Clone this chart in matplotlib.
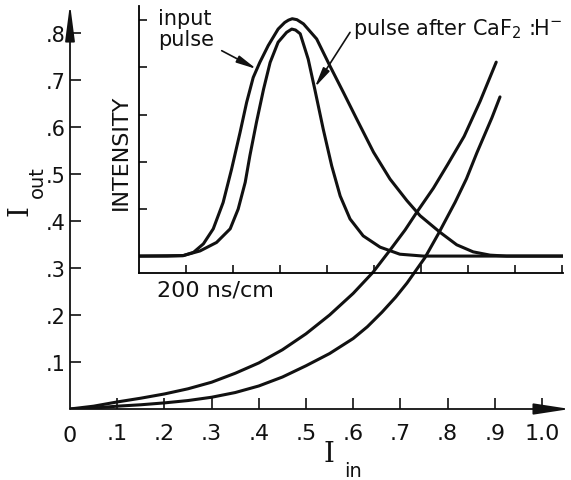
import matplotlib
matplotlib.use('Agg')
import matplotlib.pyplot as plt

# Curvas principales I_out vs I_in
upper_in = [0.0, 0.05, 0.1, 0.15, 0.2, 0.25, 0.3, 0.35, 0.4, 0.45, 0.5, 0.55, 0.6,
            0.642, 0.678, 0.71, 0.735, 0.77, 0.8, 0.835, 0.869, 0.903]
upper_out = [0.0, 0.006, 0.015, 0.023, 0.032, 0.043, 0.057, 0.076, 0.098, 0.126, 0.16,
             0.2, 0.246, 0.291, 0.338, 0.381, 0.419, 0.47, 0.52, 0.58, 0.655, 0.738]
lower_in = [0.0, 0.05, 0.1, 0.15, 0.2, 0.25, 0.3, 0.35, 0.4, 0.45, 0.5, 0.55, 0.6,
            0.63, 0.661, 0.69, 0.714, 0.752, 0.78, 0.816, 0.84, 0.862, 0.894, 0.911]
lower_out = [0.0, 0.002, 0.006, 0.009, 0.013, 0.018, 0.025, 0.035, 0.049, 0.068, 0.092,
             0.118, 0.15, 0.175, 0.206, 0.238, 0.268, 0.322, 0.372, 0.44, 0.49, 0.545,
             0.62, 0.664]

x_ticks = [0.1, 0.2, 0.3, 0.4, 0.5, 0.6, 0.7, 0.8, 0.9, 1.0]
x_tick_labels = ['.1', '.2', '.3', '.4', '.5', '.6', '.7', '.8', '.9', '1.0']
y_ticks = [0.1, 0.2, 0.3, 0.4, 0.5, 0.6, 0.7, 0.8]
y_tick_labels = ['.1', '.2', '.3', '.4', '.5', '.6', '.7', '.8']

# Recuadro: pulsos (unidades = divisiones de la pantalla)
input_t = [0.02, 0.6, 0.94, 1.16, 1.37, 1.58, 1.79, 1.97, 2.15, 2.29, 2.43, 2.57, 2.75,
           2.96, 3.1, 3.18, 3.26, 3.36, 3.5, 3.78, 4.06, 4.35, 4.63, 4.99, 5.34, 5.7,
           5.98, 6.4, 6.76, 7.11, 7.47, 7.82, 9.03]
input_i = [0.36, 0.36, 0.37, 0.44, 0.62, 0.94, 1.5, 2.21, 2.99, 3.63, 4.16, 4.48, 4.84,
           5.19, 5.33, 5.38, 5.41, 5.39, 5.3, 4.98, 4.41, 3.84, 3.28, 2.57, 2.0, 1.54,
           1.22, 0.87, 0.6, 0.45, 0.38, 0.36, 0.36]
after_t = [0.02, 0.94, 1.3, 1.65, 1.94, 2.11, 2.26, 2.36, 2.5, 2.65, 2.79, 2.96, 3.14,
           3.25, 3.33, 3.43, 3.6, 3.74, 3.92, 4.1, 4.28, 4.49, 4.77, 5.13, 5.55, 6.05, 9.03]
after_i = [0.36, 0.37, 0.47, 0.65, 0.94, 1.36, 1.93, 2.5, 3.21, 3.91, 4.48, 4.91, 5.12,
           5.19, 5.17, 5.09, 4.55, 3.91, 3.06, 2.28, 1.64, 1.15, 0.79, 0.55, 0.4, 0.36, 0.36]
inset_xticks = [1, 2, 3, 4, 5, 6, 7, 8, 9]
inset_yticks = [1.36, 2.36, 3.36, 4.38, 5.38]

W, H = 571, 481
ink = '#111111'
fig = plt.figure(figsize=(W / 100, H / 100), dpi=100)
plt.rcParams['mathtext.fontset'] = 'dejavusans'

# ejes principales
ax = fig.add_axes([70 / W, 1 - 410 / H, 500 / W, 405 / H])
ax.set_xlim(0, 500 / 472)
ax.set_ylim(0, 405 / 470)
ax.patch.set_alpha(0)
for s in ax.spines.values():
    s.set_visible(False)

ax.plot(upper_in, upper_out, color=ink, lw=2.2, solid_capstyle='round', solid_joinstyle='round')
ax.plot(lower_in, lower_out, color=ink, lw=2.2, solid_capstyle='round', solid_joinstyle='round')

ax.annotate('', xy=(1.0, 0), xytext=(0, 0), xycoords='axes fraction',
            arrowprops=dict(arrowstyle='-|>,head_length=1.3,head_width=0.2',
                            lw=1.3, color=ink, shrinkA=0, shrinkB=0,
                            mutation_scale=17))
ax.annotate('', xy=(0, 1.0), xytext=(0, 0), xycoords='axes fraction',
            arrowprops=dict(arrowstyle='-|>,head_length=1.3,head_width=0.17',
                            lw=1.3, color=ink, shrinkA=0, shrinkB=0,
                            mutation_scale=17))

ax.set_xticks(x_ticks)
ax.set_xticklabels(x_tick_labels, fontsize=16)
ax.set_yticks(y_ticks)
ax.set_yticklabels(y_tick_labels, fontsize=15)
ax.tick_params(axis='x', direction='in', length=8, width=1.2, pad=10, colors=ink)
ax.tick_params(axis='y', direction='in', length=8, width=1.2, pad=3, colors=ink)
fig.text(70 / W, 1 - 436 / H, '0', fontsize=16, ha='center', va='center', color=ink)

# etiquetas de ejes
fig.text(329 / W, 1 - 455 / H, 'I', fontsize=20, family='DejaVu Serif',
         ha='center', va='center', color=ink)
fig.text(353 / W, 1 - 472 / H, 'in', fontsize=14, ha='center', va='center', color=ink)
fig.text(20 / W, 1 - 211 / H, 'I', fontsize=20, family='DejaVu Serif', rotation=90,
         ha='center', va='center', color=ink)
fig.text(37 / W, 1 - 182 / H, 'out', fontsize=14, rotation=90,
         ha='center', va='center', color=ink)

# recuadro
ins = fig.add_axes([139 / W, 1 - 274 / H, 424 / W, 267 / H])
ins.set_xlim(0, 424 / 47)
ins.set_ylim(0, 267 / 47)
ins.patch.set_alpha(0)
ins.spines['top'].set_visible(False)
ins.spines['right'].set_visible(False)
ins.spines['left'].set_linewidth(1.3)
ins.spines['bottom'].set_linewidth(1.3)
ins.set_xticks(inset_xticks)
ins.set_yticks(inset_yticks)
ins.set_xticklabels([])
ins.set_yticklabels([])
ins.tick_params(direction='in', length=6, width=1.2, colors=ink)

ins.plot(input_t, input_i, color=ink, lw=2.2, solid_joinstyle='round')
ins.plot(after_t, after_i, color=ink, lw=2.2, solid_joinstyle='round')

ins.text(0.4, 5.2, 'input\npulse', fontsize=15, ha='left', va='center',
         linespacing=1.05, color=ink)
ins.annotate('', xy=(2.5, 4.34), xytext=(1.76, 4.73),
             arrowprops=dict(arrowstyle='-|>,head_length=0.8,head_width=0.15',
                             lw=1.2, color=ink, shrinkA=0, shrinkB=0,
                             mutation_scale=15))
ins.text(4.55, 5.08, 'pulse after CaF$_2$ :H$^{-}$', fontsize=15, ha='left',
         va='baseline', color=ink)
ins.annotate('', xy=(3.74, 3.95), xytext=(4.49, 5.12),
             arrowprops=dict(arrowstyle='-|>,head_length=0.8,head_width=0.15',
                             lw=1.2, color=ink, shrinkA=0, shrinkB=0,
                             mutation_scale=15))
fig.text(121 / W, 1 - 152 / H, 'INTENSITY', fontsize=16, rotation=90,
         ha='center', va='center', color=ink)
fig.text(157 / W, 1 - 291 / H, '200 ns/cm', fontsize=16, ha='left', va='center',
         color=ink)

fig.savefig('out.png', dpi=100)
